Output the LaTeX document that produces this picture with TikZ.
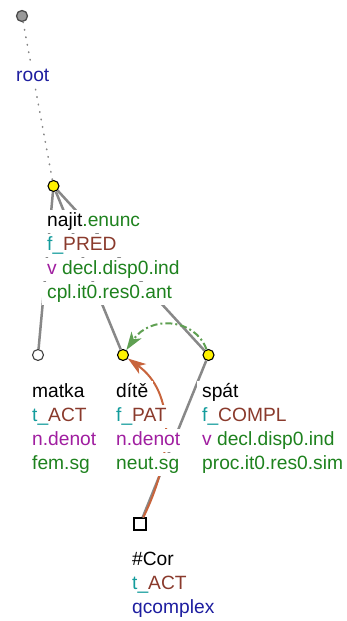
\documentclass[tikz,border=0pt]{standalone}
\usepackage{fontspec}
\setmainfont{Liberation Sans}
\usetikzlibrary{arrows.meta}
\definecolor{tgreen}{HTML}{1E821E}
\definecolor{tteal}{HTML}{139C9C}
\definecolor{tbrown}{HTML}{8A3A2C}
\definecolor{tpurple}{HTML}{A01EA0}
\definecolor{tblue}{HTML}{1E1EA0}
\definecolor{edgegray}{HTML}{888888}
\definecolor{cgreen}{HTML}{5FA052}
\definecolor{corange}{HTML}{C8643C}
\tikzset{
  lbl/.style={anchor=base west, fill=white, inner xsep=5pt, inner ysep=2.2pt,
    text height=14pt, text depth=5pt, font=\fontsize{19.2}{22}\selectfont},
  treeedge/.style={draw=edgegray, line width=2.5pt},
  ynode/.style={circle, draw=black, fill=yellow, minimum size=11pt, inner sep=0pt, line width=1.1pt},
  wnode/.style={circle, draw=black!75, fill=white, minimum size=11pt, inner sep=0pt, line width=1.1pt},
  rnode/.style={circle, draw=black!70, fill=black!40, minimum size=11pt, inner sep=0pt, line width=1.3pt},
  snode/.style={rectangle, draw=black, fill=white, minimum size=12pt, inner sep=0pt, line width=1.1pt},
  corarrow/.style={draw=corange, line width=2pt, -{Stealth[length=18pt,width=12pt,inset=5pt]}},
  grarrow/.style={draw=cgreen, line width=2pt, dash pattern=on 7pt off 3pt on 2pt off 3pt,
    -{Stealth[length=18pt,width=12pt,inset=5pt]}}
}
\begin{document}
\begin{tikzpicture}[x=1pt,y=-1pt]
\useasboundingbox[fill=white] (0,0) rectangle (347,621);
% tree nodes
\node[rnode] (root) at (22,16) {};
\node[ynode] (najit) at (53.5,186) {};
\node[wnode] (matka) at (38,355) {};
\node[ynode] (dite) at (123,355) {};
\node[ynode] (spat) at (208.5,355) {};
\node[snode] (cor) at (140,524) {};
% edges
\draw[draw=edgegray, line width=1.6pt, line cap=round, dash pattern=on 0.6pt off 7pt] (root) -- (najit);
\draw[treeedge] (najit) -- (matka);
\draw[treeedge] (najit) -- (dite);
\draw[treeedge] (najit) -- (spat);
\draw[treeedge] (spat) -- (cor);
% arrows
\draw[corarrow] (cor) .. controls (174,455) and (175,392) .. (dite);
\draw[grarrow] (spat) .. controls (195,318) and (150,315) .. (dite);
% labels
\node[lbl, text=tblue] (root-l1) at (11,81) {root};
\node[lbl] (najit-l1) at (42,226) {najit\textcolor{tgreen}{.enunc}};
\node[lbl] (najit-l2) at (42,250) {\textcolor{tteal}{f\_}\textcolor{tbrown}{PRED}};
\node[lbl] (najit-l3) at (42,274) {\textcolor{tpurple}{v} \textcolor{tgreen}{decl.disp0.ind}};
\node[lbl, text=tgreen] (najit-l4) at (42,298) {cpl.it0.res0.ant};
\node[lbl] (matka-l1) at (27,397) {matka};
\node[lbl] (matka-l2) at (27,421) {\textcolor{tteal}{t\_}\textcolor{tbrown}{ACT}};
\node[lbl, text=tpurple] (matka-l3) at (27,445) {n.denot};
\node[lbl, text=tgreen] (matka-l4) at (27,469) {fem.sg};
\node[lbl] (dite-l1) at (111,397) {dítě};
\node[lbl] (dite-l2) at (111,421) {\textcolor{tteal}{f\_}\textcolor{tbrown}{PAT}};
\node[lbl, text=tpurple] (dite-l3) at (111,445) {n.denot};
\node[lbl, text=tgreen] (dite-l4) at (111,469) {neut.sg};
\node[lbl] (spat-l1) at (197,397) {spát};
\node[lbl] (spat-l2) at (197,421) {\textcolor{tteal}{f\_}\textcolor{tbrown}{COMPL}};
\node[lbl] (spat-l3) at (197,445) {\textcolor{tpurple}{v} \textcolor{tgreen}{decl.disp0.ind}};
\node[lbl, text=tgreen] (spat-l4) at (197,469) {proc.it0.res0.sim};
\node[lbl] (cor-l1) at (127,565) {\#Cor};
\node[lbl] (cor-l2) at (127,589) {\textcolor{tteal}{t\_}\textcolor{tbrown}{ACT}};
\node[lbl, text=tblue] (cor-l3) at (127,613) {qcomplex};
\end{tikzpicture}
\end{document}
